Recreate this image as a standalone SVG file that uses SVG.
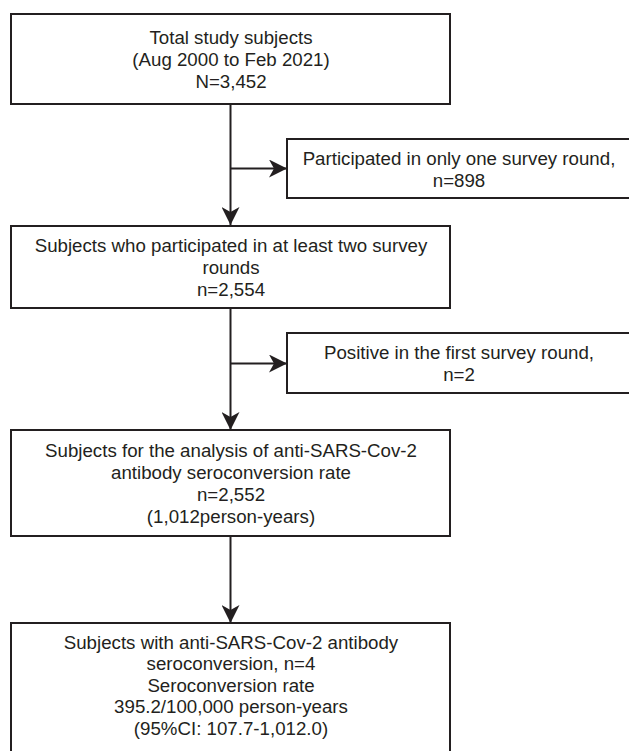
<svg xmlns="http://www.w3.org/2000/svg" width="629" height="751" viewBox="0 0 629 751">
<defs>
<style>
.box{fill:#ffffff;stroke:#231f20;stroke-width:2}
.t{font-family:"Liberation Sans",Arial,Helvetica,sans-serif;font-size:18.7px;fill:#231f20;text-anchor:middle}
.c{fill:none;stroke:#231f20;stroke-width:2}
</style>
<marker id="ah" viewBox="0 0 19 18" refX="18" refY="9" markerWidth="19" markerHeight="18" markerUnits="userSpaceOnUse" orient="auto">
<path d="M0,0 L18,9 L0,18 L5,9 Z" fill="#231f20"/>
</marker>
</defs>
<rect width="629" height="751" fill="#ffffff"/>
<g id="connectors">
<line class="c" x1="230.5" y1="104" x2="230.5" y2="225" marker-end="url(#ah)"/>
<line class="c" x1="230.5" y1="168.5" x2="287" y2="168.5" marker-end="url(#ah)"/>
<line class="c" x1="230.5" y1="308" x2="230.5" y2="430" marker-end="url(#ah)"/>
<line class="c" x1="230.5" y1="363.5" x2="287" y2="363.5" marker-end="url(#ah)"/>
<line class="c" x1="230.5" y1="536" x2="230.5" y2="623" marker-end="url(#ah)"/>
</g>
<g id="n1">
<rect class="box" x="11" y="14" width="439" height="90"/>
<text class="t" x="231" y="43.5">Total study subjects</text>
<text class="t" x="231" y="65.5">(Aug 2000 to Feb 2021)</text>
<text class="t" x="231" y="87.5">N=3,452</text>
</g>
<g id="n2">
<rect class="box" x="287" y="139" width="344" height="59"/>
<text class="t" x="459" y="164.5">Participated in only one survey round,</text>
<text class="t" x="459" y="186.5">n=898</text>
</g>
<g id="n3">
<rect class="box" x="11" y="226" width="439" height="82"/>
<text class="t" x="231" y="251.5">Subjects who participated in at least two survey</text>
<text class="t" x="231" y="273.5">rounds</text>
<text class="t" x="231" y="295.5">n=2,554</text>
</g>
<g id="n4">
<rect class="box" x="287" y="333" width="344" height="60"/>
<text class="t" x="459" y="358.5">Positive in the first survey round,</text>
<text class="t" x="459" y="380.5">n=2</text>
</g>
<g id="n5">
<rect class="box" x="11" y="430" width="439" height="106"/>
<text class="t" x="231" y="456.5">Subjects for the analysis of anti-SARS-Cov-2</text>
<text class="t" x="231" y="478.5">antibody seroconversion rate</text>
<text class="t" x="231" y="500.5">n=2,552</text>
<text class="t" x="231" y="522.5">(1,012person-years)</text>
</g>
<g id="n6">
<rect class="box" x="11" y="623" width="439" height="150"/>
<text class="t" x="231" y="648.5">Subjects with anti-SARS-Cov-2 antibody</text>
<text class="t" x="231" y="670">seroconversion, n=4</text>
<text class="t" x="231" y="691.5">Seroconversion rate</text>
<text class="t" x="231" y="713">395.2/100,000 person-years</text>
<text class="t" x="231" y="734.5">(95%CI: 107.7-1,012.0)</text>
</g>
</svg>
